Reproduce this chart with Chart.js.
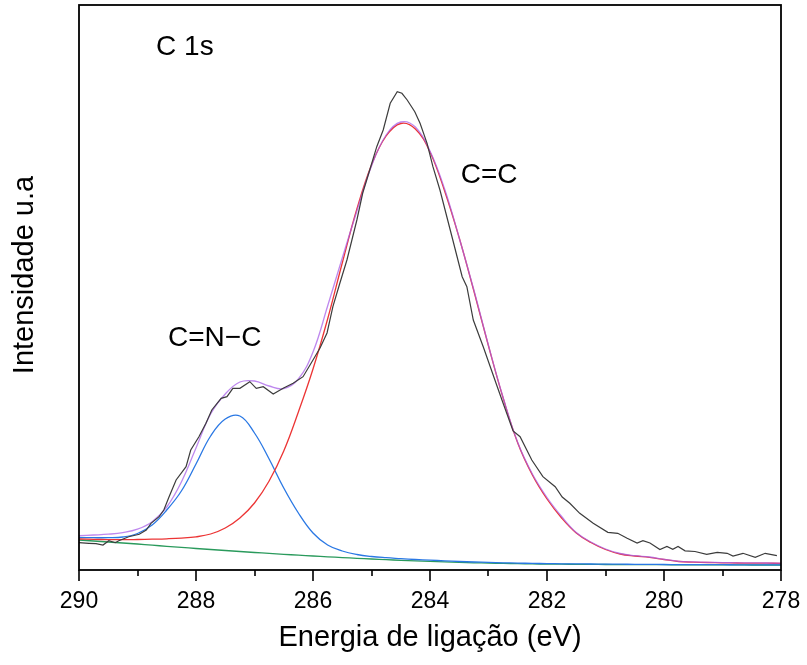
<!DOCTYPE html>
<html>
<head>
<meta charset="utf-8">
<script src="https://cdn.jsdelivr.net/npm/chart.js@4.4.0/dist/chart.umd.min.js"></script>
<style>
  html, body { margin: 0; padding: 0; background: #fff; }
  #wrap { width: 807px; height: 665px; }
</style>
</head>
<body>
<div id="wrap"><canvas id="chart" width="807" height="665"></canvas></div>
<script>
// XPS C 1s spectrum with peak fit

// measured spectrum (binding energy in eV, intensity a.u.)
var rawEnergy = [290.00, 289.83, 289.71, 289.59, 289.49, 289.38, 289.32, 289.15, 288.97, 288.85,
  288.77, 288.63, 288.55, 288.46, 288.34, 288.17, 288.09, 287.95, 287.83, 287.73,
  287.57, 287.47, 287.37, 287.25, 287.08, 286.97, 286.85, 286.68, 286.51, 286.34,
  286.17, 286.00, 285.88, 285.76, 285.66, 285.54, 285.42, 285.25, 285.15, 285.03,
  284.91, 284.80, 284.68, 284.56, 284.48, 284.39, 284.26, 284.17, 284.05, 283.95,
  283.83, 283.61, 283.45, 283.37, 283.26, 283.09, 282.97, 282.85, 282.75, 282.58,
  282.46, 282.26, 282.07, 281.86, 281.74, 281.61, 281.44, 281.21, 280.96, 280.79,
  280.63, 280.46, 280.36, 280.24, 280.07, 279.95, 279.85, 279.76, 279.64, 279.47,
  279.27, 279.09, 278.92, 278.82, 278.65, 278.44, 278.27, 278.07];
var rawIntensity = [27.3, 26.7, 26.3, 25.0, 29.3, 27.3, 29.3, 33.3, 35.7, 40.0,
  46.7, 53.3, 60.0, 73.3, 90.0, 103.3, 120.0, 133.3, 146.7, 160.0,
  171.7, 173.3, 181.7, 181.7, 188.3, 181.7, 183.3, 176.0, 181.7, 186.7,
  193.3, 210.0, 222.0, 237.0, 263.3, 287.0, 310.0, 350.0, 377.0, 400.0,
  423.3, 440.0, 466.7, 478.3, 476.7, 470.0, 458.3, 446.7, 426.7, 403.3,
  380.0, 330.0, 293.3, 283.3, 250.0, 223.3, 203.3, 183.3, 166.7, 139.0,
  133.3, 110.0, 93.3, 83.3, 73.0, 66.7, 56.7, 46.7, 37.7, 36.7,
  31.7, 27.0, 29.3, 27.0, 20.5, 23.5, 20.7, 23.5, 19.2, 18.5,
  15.7, 17.7, 16.7, 14.0, 16.7, 12.7, 16.7, 14.3];

// fitted curves, sampled on one energy grid
var fitEnergy = [290, 289.75, 289.5, 289.25, 289, 288.75, 288.5, 288.25, 288, 287.75,
  287.5, 287.25, 287, 286.75, 286.5, 286.25, 286, 285.75, 285.5, 285.25,
  285, 284.75, 284.5, 284.25, 284, 283.75, 283.5, 283.25, 283, 282.75,
  282.5, 282.25, 282, 281.75, 281.5, 281.25, 281, 280.75, 280.5, 280.25,
  280, 279.75, 279.5, 279.25, 279, 278.75, 278.5, 278.25, 278];
var envelope = [34.3, 35, 35.8, 37.4, 40.8, 48.3, 63, 88, 122, 156,
  176, 188, 189, 184, 181.5, 191, 218, 264, 312, 359,
  404, 435, 448, 443, 419, 381, 332, 280, 224.5, 172.5,
  127.5, 96, 72.5, 53.5, 37.5, 28, 21, 16.5, 14.3, 13,
  10.7, 8.7, 8.1, 7.7, 7.4, 7.2, 7.1, 7, 6.9];
var peakCC = [31, 30.6, 30.4, 30.3, 30.5, 30.8, 31.2, 31.9, 33.2, 36,
  42, 52, 67, 89, 119, 158, 201, 251, 307, 361,
  405, 434, 446.5, 441, 418, 379, 332, 279, 224, 172,
  127, 95, 71, 52, 37, 27.5, 20.5, 16, 14, 12.7,
  10.5, 8.5, 7.9, 7.5, 7.2, 7, 6.9, 6.8, 6.7];
var peakCNC = [32.5, 32.3, 32.3, 33, 36.5, 45, 60, 79, 106, 134,
  151, 154, 137, 111, 82, 57, 37, 25, 19, 15.5,
  13.5, 12.3, 11.4, 10.5, 9.8, 9.2, 8.5, 8, 7.6, 7.2,
  6.9, 6.6, 6.4, 6.2, 6.1, 6, 5.9, 5.8, 5.7, 5.6,
  5.5, 5.4, 5.4, 5.3, 5.3, 5.2, 5.2, 5.1, 5.1];
var background = [30, 29, 28, 27, 26, 24.8, 23.7, 22.6, 21.5, 20.5,
  19.5, 18.5, 17.5, 16.6, 15.7, 14.8, 14, 13.2, 12.4, 11.7,
  11, 10.3, 9.7, 9.1, 8.6, 8.1, 7.6, 7.2, 6.9, 6.6,
  6.3, 6.1, 5.9, 5.8, 5.7, 5.6, 5.5, 5.4, 5.4, 5.3,
  5.3, 5.2, 5.2, 5.1, 5.1, 5.1, 5, 5, 5];

var majorTicks = [290, 288, 286, 284, 282, 280, 278];
var minorTicks = [289, 287, 285, 283, 281, 279];

var noteText = ['C 1s', 'C=C', 'C=N\u2212C'];
var noteEnergy = [288.19, 282.99, 287.68];
var noteIntensity = [523, 395, 232];

var yTitle = 'Intensidade u.a';
var FONT = '"Liberation Sans", Arial, Helvetica, sans-serif';

function pairs(xs, ys) {
  return xs.map(function(v, i) { return { x: v, y: ys[i] }; });
}

function fitLine(label, ys, color, order) {
  return {
    label: label,
    data: pairs(fitEnergy, ys),
    borderColor: color,
    borderWidth: 1.3,
    pointRadius: 0,
    tension: 0.4,
    fill: false,
    order: order
  };
}

// box frame, outward ticks, y title and peak labels
var frameAndNotes = {
  id: 'frameAndNotes',
  afterDatasetsDraw: function(chart) {
    var ctx = chart.ctx, a = chart.chartArea;
    var xs = chart.scales.x, ys = chart.scales.y;
    ctx.save();
    ctx.strokeStyle = '#000';
    ctx.lineWidth = 1.8;
    ctx.strokeRect(a.left, a.top, a.right - a.left, a.bottom - a.top);
    ctx.lineWidth = 1.6;
    ctx.beginPath();
    majorTicks.forEach(function(v) {
      var px = Math.round(xs.getPixelForValue(v));
      ctx.moveTo(px, a.bottom);
      ctx.lineTo(px, a.bottom + 11);
    });
    minorTicks.forEach(function(v) {
      var px = Math.round(xs.getPixelForValue(v));
      ctx.moveTo(px, a.bottom);
      ctx.lineTo(px, a.bottom + 6);
    });
    ctx.stroke();

    ctx.fillStyle = '#000';
    ctx.textAlign = 'center';
    ctx.textBaseline = 'middle';
    ctx.font = '28px ' + FONT;
    noteText.forEach(function(t, i) {
      ctx.fillText(t, xs.getPixelForValue(noteEnergy[i]), ys.getPixelForValue(noteIntensity[i]));
    });

    ctx.font = '29px ' + FONT;
    ctx.translate(25, 275);
    ctx.rotate(-Math.PI / 2);
    ctx.fillText(yTitle, 0, 0);
    ctx.restore();
  }
};

new Chart(document.getElementById('chart').getContext('2d'), {
  type: 'line',
  data: {
    datasets: [
      {
        label: 'Dados',
        data: pairs(rawEnergy, rawIntensity),
        borderColor: '#3c3c3c',
        borderWidth: 1.2,
        pointRadius: 0,
        tension: 0,
        fill: false,
        order: 0
      },
      fitLine('Envelope', envelope, 'rgba(168, 96, 232, 0.75)', 1),
      fitLine('C=C', peakCC, '#ec3434', 2),
      fitLine('C=N-C', peakCNC, '#2a78e4', 3),
      fitLine('Fundo', background, '#2a9a5c', 4)
    ]
  },
  options: {
    responsive: false,
    animation: false,
    layout: { padding: { top: 5, right: 26, left: 0, bottom: 0 } },
    plugins: {
      legend: { display: false },
      tooltip: { enabled: false }
    },
    scales: {
      x: {
        type: 'linear',
        reverse: true,
        min: 278,
        max: 290,
        grid: { display: false, drawTicks: false },
        border: { display: false },
        ticks: {
          stepSize: 2,
          padding: 18,
          color: '#000',
          font: { family: FONT, size: 23 },
          maxRotation: 0
        },
        title: {
          display: true,
          text: 'Energia de ligação (eV)',
          color: '#000',
          font: { family: FONT, size: 29 },
          padding: { top: 0, bottom: 10 }
        },
        afterFit: function(scale) {
          scale.height = 95;
          scale.paddingLeft = 0;
          scale.paddingRight = 0;
        }
      },
      y: {
        type: 'linear',
        min: 0,
        max: 565,
        grid: { display: false, drawTicks: false },
        border: { display: false },
        ticks: { display: false },
        afterFit: function(scale) {
          scale.width = 79;
          scale.paddingTop = 0;
          scale.paddingBottom = 0;
        }
      }
    }
  },
  plugins: [frameAndNotes]
});
</script>
</body>
</html>
